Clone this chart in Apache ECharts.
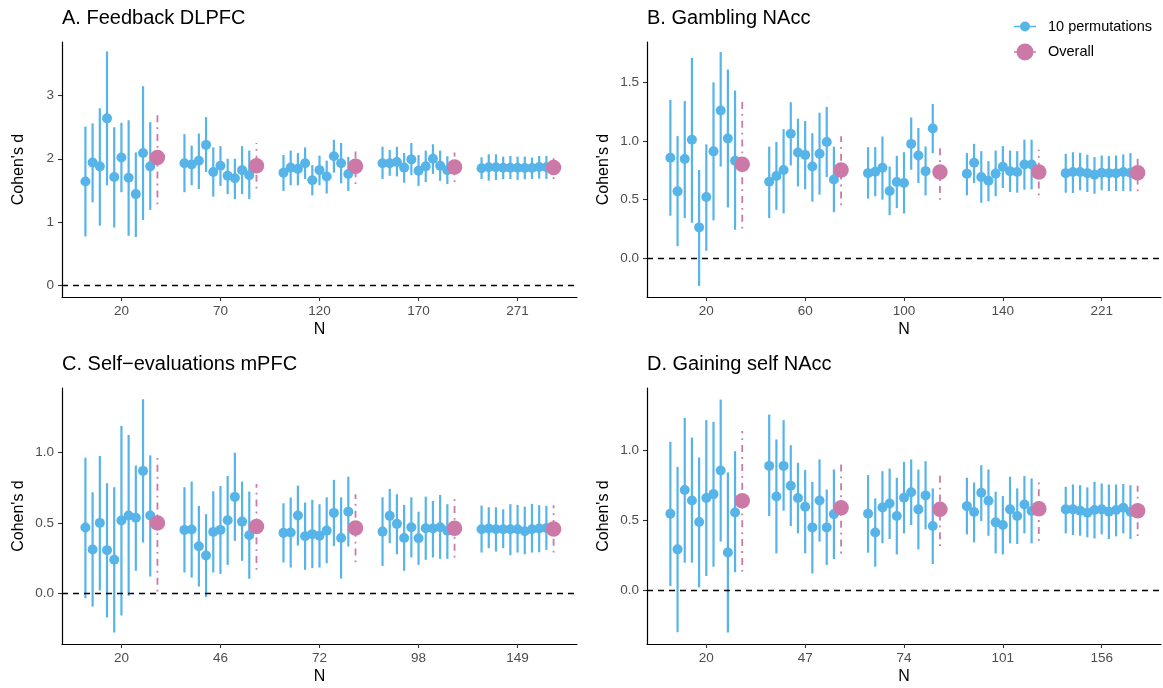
<!DOCTYPE html>
<html><head><meta charset="utf-8">
<script src="https://cdn.jsdelivr.net/npm/echarts@6.0.0/dist/echarts.min.js"></script>
<style>html,body{margin:0;padding:0;background:#fff}#chart{width:1163px;height:688px}</style>
</head><body><div id="chart"></div>
<script>
// ---------- DATA ----------
const titles = ['A. Feedback DLPFC', 'B. Gambling NAcc', 'C. Self\u2212evaluations mPFC', 'D. Gaining self NAcc'];
const nLabelsA = ['20', '70', '120', '170', '271'];
const nLabelsB = ['20', '60', '100', '140', '221'];
const nLabelsC = ['20', '46', '72', '98', '149'];
const nLabelsD = ['20', '47', '74', '101', '156'];
const yTicksA = [0, 1, 2, 3];
const yTicksB = [0, 0.5, 1, 1.5];
const yTicksC = [0, 0.5, 1];
const yTicksD = [0, 0.5, 1];

// Panel A: 10 permutations per N (estimate, lower, upper)
const aEst = [
  [1.64,1.94,1.88,2.64,1.71,2.02,1.70,1.44,2.09,1.88],
  [1.93,1.91,1.97,2.22,1.79,1.89,1.73,1.69,1.82,1.74],
  [1.78,1.86,1.84,1.93,1.66,1.82,1.72,2.04,1.93,1.76],
  [1.93,1.93,1.95,1.86,1.99,1.81,1.88,2.00,1.89,1.82],
  [1.849,1.865,1.865,1.859,1.859,1.859,1.854,1.854,1.870,1.865]];
const aLo = [
  [0.77,1.31,0.94,1.58,0.91,1.47,0.78,0.76,1.03,1.19],
  [1.47,1.58,1.52,1.79,1.40,1.57,1.44,1.36,1.44,1.36],
  [1.49,1.58,1.58,1.68,1.42,1.58,1.45,1.78,1.61,1.49],
  [1.68,1.73,1.72,1.62,1.74,1.57,1.63,1.76,1.65,1.60],
  [1.68,1.653,1.664,1.675,1.68,1.664,1.675,1.68,1.685,1.68]];
const aHi = [
  [2.51,2.56,2.80,3.70,2.50,2.57,2.61,2.10,3.15,2.58],
  [2.39,2.21,2.40,2.66,2.18,2.20,2.00,2.00,2.20,2.13],
  [2.06,2.13,2.09,2.18,1.90,2.05,1.97,2.30,2.25,2.03],
  [2.19,2.14,2.19,2.09,2.25,2.06,2.13,2.23,2.13,2.04],
  [2.023,2.071,2.071,2.034,2.044,2.034,2.034,2.018,2.044,2.044]];
const aOvEst = [2.02, 1.89, 1.88, 1.87, 1.86];
const aOvLo = [1.28, 1.53, 1.60, 1.63, 1.68];
const aOvHi = [2.77, 2.25, 2.15, 2.10, 2.03];

// Panel B
const bEst = [
  [0.855,0.568,0.844,1.01,0.26,0.52,0.91,1.26,1.02,0.83],
  [0.65,0.70,0.75,1.06,0.90,0.88,0.78,0.89,0.99,0.67],
  [0.724,0.736,0.77,0.571,0.648,0.639,0.974,0.875,0.741,1.105],
  [0.719,0.8125,0.69,0.659,0.72,0.778,0.741,0.733,0.798,0.798],
  [0.724,0.733,0.733,0.724,0.710,0.727,0.724,0.724,0.733,0.727]];
const bLo = [
  [0.36,0.10,0.34,0.30,-0.24,0.06,0.32,0.78,0.43,0.24],
  [0.34,0.41,0.38,0.79,0.61,0.585,0.48,0.54,0.69,0.39],
  [0.506,0.526,0.497,0.364,0.426,0.378,0.753,0.639,0.534,0.895],
  [0.534,0.639,0.47,0.483,0.526,0.597,0.5625,0.557,0.582,0.585],
  [0.557,0.554,0.577,0.5625,0.548,0.577,0.571,0.571,0.571,0.568]];
const bHi = [
  [1.35,1.04,1.34,1.71,0.75,0.97,1.50,1.76,1.61,1.43],
  [0.95,0.99,1.10,1.33,1.19,1.17,1.065,1.24,1.29,0.95],
  [0.946,0.946,1.037,0.78,0.872,0.903,1.20,1.11,0.952,1.315],
  [0.895,0.974,0.912,0.827,0.917,0.955,0.917,0.912,1.01,1.01],
  [0.889,0.903,0.898,0.881,0.861,0.875,0.869,0.875,0.884,0.895]];
const bOvEst = [0.80, 0.75, 0.733, 0.733, 0.727];
const bOvLo = [0.25, 0.45, 0.497, 0.534, 0.568];
const bOvHi = [1.34, 1.04, 0.96, 0.923, 0.884];

// Panel C
const cEst = [
  [0.467,0.31,0.5,0.306,0.237,0.517,0.552,0.536,0.87,0.552],
  [0.45,0.453,0.334,0.268,0.436,0.45,0.519,0.685,0.509,0.412],
  [0.429,0.431,0.552,0.405,0.42,0.408,0.445,0.571,0.393,0.58],
  [0.438,0.55,0.493,0.393,0.469,0.391,0.462,0.46,0.469,0.445],
  [0.455,0.46,0.455,0.455,0.455,0.455,0.441,0.455,0.46,0.464]];
const cLo = [
  [-0.036,-0.095,0.019,-0.173,-0.28,-0.159,-0.019,0.159,0.36,0.118],
  [0.147,0.111,0.047,-0.028,0.147,0.137,0.201,0.372,0.23,0.102],
  [0.218,0.182,0.339,0.166,0.178,0.182,0.213,0.336,0.104,0.332],
  [0.194,0.355,0.277,0.159,0.254,0.201,0.237,0.254,0.244,0.244],
  [0.289,0.32,0.296,0.32,0.27,0.289,0.277,0.289,0.291,0.308]];
const cHi = [
  [0.964,0.718,0.976,0.782,0.754,1.19,1.126,0.908,1.38,0.981],
  [0.754,0.794,0.621,0.562,0.725,0.763,0.834,1.0,0.794,0.723],
  [0.64,0.68,0.765,0.645,0.664,0.633,0.682,0.806,0.682,0.829],
  [0.682,0.742,0.704,0.628,0.682,0.58,0.687,0.656,0.699,0.633],
  [0.623,0.611,0.611,0.597,0.633,0.628,0.616,0.635,0.626,0.621]];
const cOvEst = [0.5, 0.474, 0.464, 0.462, 0.457];
const cOvLo = [0.012, 0.166, 0.22, 0.254, 0.289];
const cOvHi = [0.988, 0.777, 0.704, 0.668, 0.626];

// Panel D
const dEst = [
  [0.548,0.293,0.717,0.643,0.488,0.66,0.688,0.857,0.271,0.557],
  [0.89,0.671,0.89,0.748,0.66,0.598,0.45,0.643,0.45,0.545],
  [0.548,0.414,0.593,0.621,0.531,0.662,0.702,0.579,0.679,0.46],
  [0.602,0.56,0.698,0.64,0.486,0.467,0.579,0.531,0.614,0.567],
  [0.579,0.579,0.569,0.555,0.574,0.579,0.562,0.574,0.59,0.562]];
const dLo = [
  [0.031,-0.3,0.198,0.198,0.021,0.102,0.169,0.348,-0.302,0.129],
  [0.531,0.264,0.569,0.46,0.407,0.264,0.121,0.348,0.181,0.224],
  [0.269,0.169,0.336,0.367,0.257,0.407,0.467,0.293,0.436,0.188],
  [0.4,0.343,0.495,0.39,0.264,0.257,0.336,0.331,0.407,0.336],
  [0.407,0.395,0.39,0.379,0.371,0.4,0.367,0.386,0.407,0.367]];
const dHi = [
  [1.062,0.883,1.233,1.093,0.95,1.217,1.205,1.364,0.843,0.995],
  [1.257,1.079,1.217,1.038,0.912,0.86,0.776,0.936,0.721,0.864],
  [0.824,0.657,0.852,0.871,0.805,0.919,0.936,0.864,0.924,0.729],
  [0.805,0.771,0.895,0.864,0.705,0.674,0.812,0.729,0.817,0.8],
  [0.74,0.757,0.752,0.736,0.776,0.764,0.757,0.757,0.76,0.752]];
const dOvEst = [0.64, 0.59, 0.579, 0.583, 0.569];
const dOvLo = [0.133, 0.264, 0.317, 0.355, 0.388];
const dOvHi = [1.14, 0.914, 0.836, 0.805, 0.748];

// ---------- LAYOUT / STYLE ----------
const BLUE = '#56B4E9', PINK = '#CC79A7';
const FONT = 'Liberation Sans, Arial, sans-serif';
const DODGE = 0.8 / 11;
const panels = [
  {n: nLabelsA, est: aEst, lo: aLo, hi: aHi, oe: aOvEst, ol: aOvLo, oh: aOvHi, yMin: -0.19, yMax: 3.85, ticks: yTicksA, dec: 0},
  {n: nLabelsB, est: bEst, lo: bLo, hi: bHi, oe: bOvEst, ol: bOvLo, oh: bOvHi, yMin: -0.335, yMax: 1.845, ticks: yTicksB, dec: 1},
  {n: nLabelsC, est: cEst, lo: cLo, hi: cHi, oe: cOvEst, ol: cOvLo, oh: cOvHi, yMin: -0.362, yMax: 1.46, ticks: yTicksC, dec: 1},
  {n: nLabelsD, est: dEst, lo: dLo, hi: dHi, oe: dOvEst, ol: dOvLo, oh: dOvHi, yMin: -0.384, yMax: 1.447, ticks: yTicksD, dec: 1}
];
const grids = [
  {left: 62, top: 42, width: 515, height: 255},
  {left: 647, top: 42, width: 514, height: 255},
  {left: 62, top: 388, width: 515, height: 256},
  {left: 647, top: 388, width: 514, height: 256}
];
const titlePos = [[62, 8], [647, 8], [62, 354], [647, 354]];

function barRenderer(color, width, dash) {
  return function (params, api) {
    const x = api.value(0);
    const p1 = api.coord([x, api.value(1)]);
    const p2 = api.coord([x, api.value(2)]);
    return {type: 'line', shape: {x1: p1[0], y1: p1[1], x2: p2[0], y2: p2[1]},
      style: {stroke: color, lineWidth: width, lineDash: dash || null}};
  };
}

const xAxes = [], yAxes = [], series = [], titleArr = [];
panels.forEach((p, i) => {
  titleArr.push({text: titles[i], left: titlePos[i][0], top: titlePos[i][1], padding: 0,
    textStyle: {fontFamily: FONT, fontSize: 20, fontWeight: 'normal', color: '#000'}});
  xAxes.push({type: 'value', gridIndex: i, min: 0.4, max: 5.6,
    axisLine: {show: true, onZero: false, lineStyle: {color: '#000', width: 1.2}},
    axisTick: {show: true, length: 4, customValues: [1, 2, 3, 4, 5], lineStyle: {color: '#333', width: 1.1}},
    axisLabel: {customValues: [1, 2, 3, 4, 5], formatter: v => p.n[Math.round(v) - 1],
      color: '#4D4D4D', fontSize: 13.5, fontFamily: FONT, margin: 7},
    splitLine: {show: false},
    name: 'N', nameLocation: 'middle', nameGap: 25,
    nameTextStyle: {fontFamily: FONT, fontSize: 16, color: '#000'}});
  yAxes.push({type: 'value', gridIndex: i, min: p.yMin, max: p.yMax,
    axisLine: {show: true, onZero: false, lineStyle: {color: '#000', width: 1.2}},
    axisTick: {show: true, length: 4, customValues: p.ticks, lineStyle: {color: '#333', width: 1.1}},
    axisLabel: {customValues: p.ticks, formatter: v => Number(v).toFixed(p.dec),
      color: '#4D4D4D', fontSize: 13.5, fontFamily: FONT, margin: 8},
    splitLine: {show: false},
    name: "Cohen's d", nameLocation: 'middle', nameGap: 35, nameRotate: 90,
    nameTextStyle: {fontFamily: FONT, fontSize: 16, color: '#000'}});

  const permBars = [], permPts = [], ovBars = [], ovPts = [];
  for (let g = 0; g < 5; g++) {
    for (let j = 0; j < 10; j++) {
      const x = g + 1 + (j - 5) * DODGE;
      permBars.push([x, p.lo[g][j], p.hi[g][j]]);
      permPts.push([x, p.est[g][j]]);
    }
    const xo = g + 1 + 5 * DODGE;
    ovBars.push([xo, p.ol[g], p.oh[g]]);
    ovPts.push([xo, p.oe[g]]);
  }
  series.push({type: 'custom', xAxisIndex: i, yAxisIndex: i, data: permBars, z: 2,
    renderItem: barRenderer(BLUE, 2.2), encode: {x: 0, y: [1, 2]}, silent: true,
    markLine: {silent: true, symbol: 'none', label: {show: false},
      lineStyle: {color: '#000', type: [6, 5], width: 1.4, opacity: 1}, data: [{yAxis: 0}]}});
  series.push({type: 'custom', xAxisIndex: i, yAxisIndex: i, data: ovBars, z: 2,
    renderItem: barRenderer(PINK, 1.8, [1.8, 5, 7, 5]), encode: {x: 0, y: [1, 2]}, silent: true});
  series.push({type: 'scatter', name: '10 permutations', xAxisIndex: i, yAxisIndex: i, data: permPts,
    symbolSize: 10, itemStyle: {color: BLUE, opacity: 1}, z: 3, silent: true});
  series.push({type: 'scatter', name: 'Overall', xAxisIndex: i, yAxisIndex: i, data: ovPts,
    symbolSize: 15.5, itemStyle: {color: PINK, opacity: 1}, z: 4, silent: true});
});

const iconPerm = 'path://M0 4.2L6.6 4.2L6.6 5.8L0 5.8Z M15.4 4.2L22 4.2L22 5.8L15.4 5.8Z M6 5A5 5 0 1 1 16 5A5 5 0 1 1 6 5Z';
const iconOv = 'path://M0 7.7L2.5 7.7L2.5 9.3L0 9.3Z M19.5 7.7L22 7.7L22 9.3L19.5 9.3Z M2.5 8.5A8.5 8.5 0 1 1 19.5 8.5A8.5 8.5 0 1 1 2.5 8.5Z';

const option = {
  animation: false,
  backgroundColor: '#fff',
  title: titleArr,
  grid: grids,
  xAxis: xAxes,
  yAxis: yAxes,
  legend: [
    {data: [{name: '10 permutations', icon: iconPerm}], left: 1014, top: 19, padding: 0,
      itemWidth: 22, itemHeight: 10, selectedMode: false,
      textStyle: {fontFamily: FONT, fontSize: 14.5, color: '#000', padding: [0, 0, 0, 7]}},
    {data: [{name: 'Overall', icon: iconOv}], left: 1014, top: 43.5, padding: 0,
      itemWidth: 22, itemHeight: 17, selectedMode: false,
      textStyle: {fontFamily: FONT, fontSize: 14.5, color: '#000', padding: [0, 0, 0, 7]}}
  ],
  series: series
};
const chart = echarts.init(document.getElementById('chart'), null, {renderer: 'canvas'});
chart.setOption(option);
</script>
</body></html>
